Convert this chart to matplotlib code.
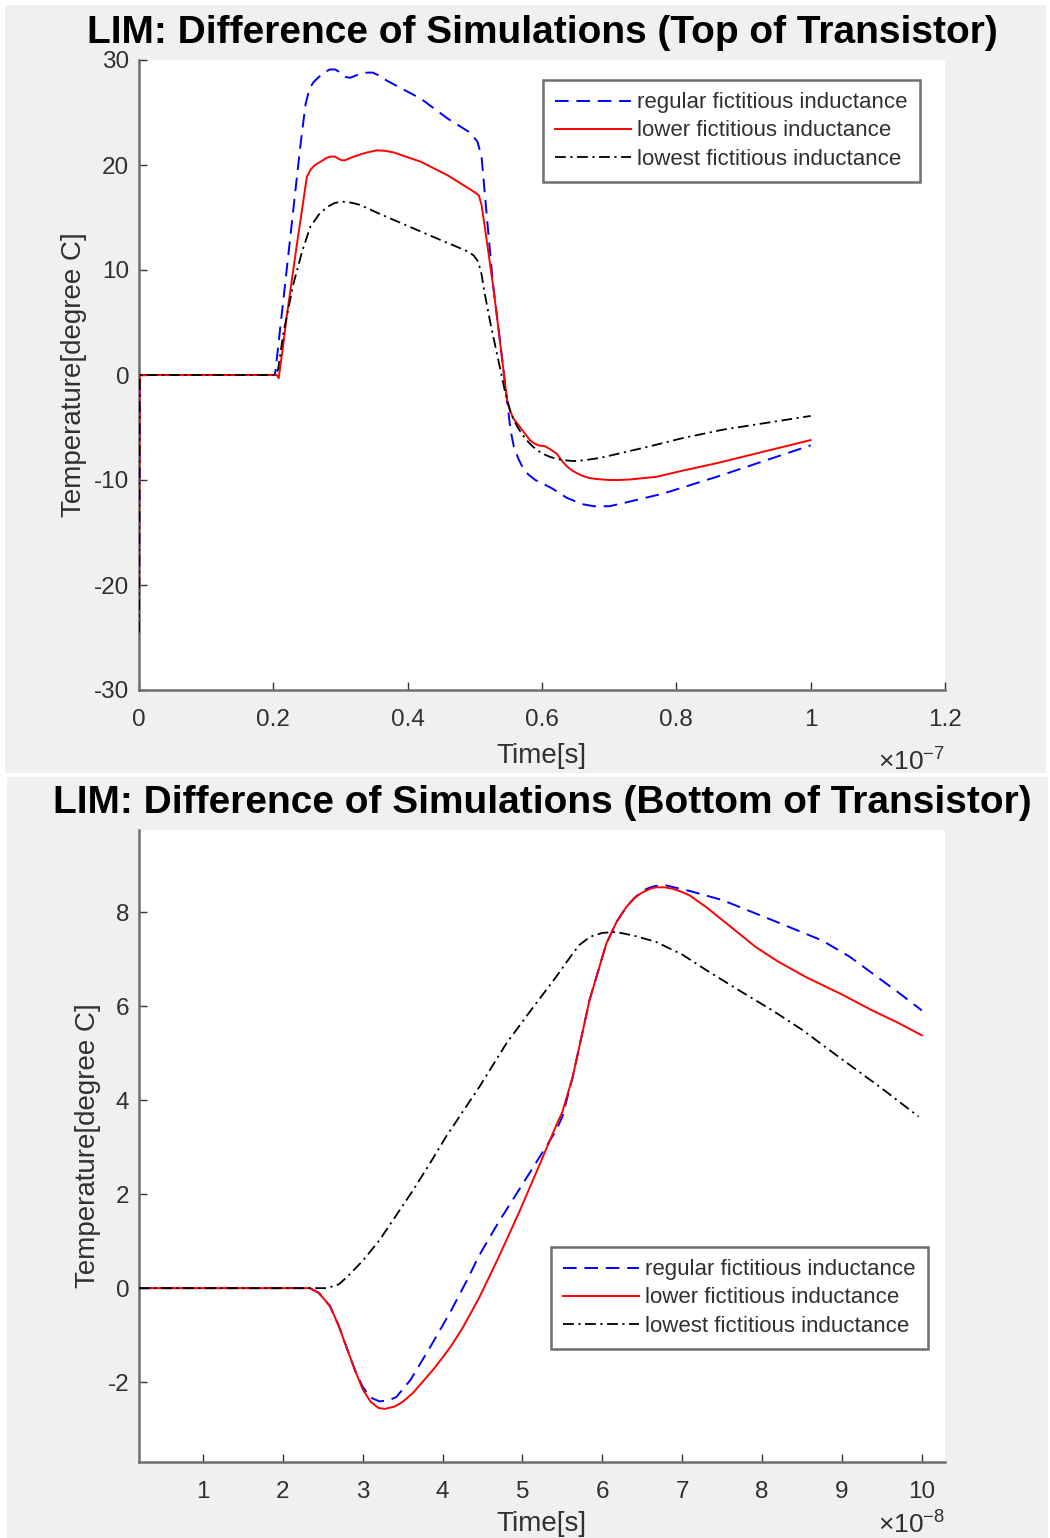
import numpy as np
import matplotlib
matplotlib.use('Agg')
import matplotlib.pyplot as plt
from matplotlib.patches import Rectangle

plt.rcParams['font.family'] = ['Liberation Sans', 'DejaVu Sans']
plt.rcParams['mathtext.fontset'] = 'custom'
plt.rcParams['mathtext.rm'] = 'Liberation Sans'
plt.rcParams['axes.unicode_minus'] = False

# ---- top panel data (time in units of 1e-7 s) ----
top_t_regular = [0, 0.001, 0.2, 0.2025, 0.215, 0.23, 0.24, 0.248, 0.254, 0.26, 0.268, 0.276, 0.284,
                 0.292, 0.30, 0.307, 0.314, 0.322, 0.33, 0.34, 0.348, 0.358, 0.37, 0.42, 0.46,
                 0.49, 0.498, 0.504, 0.51, 0.518, 0.527, 0.538, 0.548, 0.553, 0.558, 0.565, 0.572,
                 0.58, 0.59, 0.6, 0.615, 0.637, 0.66, 0.677, 0.70, 0.721, 0.78, 0.86, 0.93, 1.0]
top_regular = [-24.5, 0, 0, 0, 7.2, 15.9, 21.7, 25.8, 27.3, 27.9, 28.4, 28.8, 29.1,
               29.1, 28.8, 28.4, 28.3, 28.5, 28.7, 28.8, 28.8, 28.5, 28.0, 26.3, 24.4,
               23.2, 22.7, 22.2, 20.8, 15.0, 8.7, 3.0, -2.4, -5.2, -6.8, -8.0, -8.9,
               -9.5, -10.0, -10.3, -10.8, -11.7, -12.3, -12.5, -12.5, -12.2, -11.3, -9.7, -8.2, -6.7]

top_t_lower = [0, 0.001, 0.205, 0.208, 0.214, 0.22, 0.235, 0.25, 0.256, 0.262, 0.27, 0.28, 0.286,
               0.292, 0.297, 0.302, 0.307, 0.312, 0.32, 0.329, 0.34, 0.354, 0.366, 0.379, 0.42,
               0.46, 0.50, 0.506, 0.51, 0.518, 0.528, 0.538, 0.548, 0.553, 0.557, 0.563, 0.57,
               0.576, 0.582, 0.588, 0.595, 0.6, 0.605, 0.613, 0.622, 0.63, 0.637, 0.645, 0.652,
               0.66, 0.67, 0.68, 0.69, 0.70, 0.715, 0.731, 0.77, 0.81, 0.86, 0.93, 1.0]
top_lower = [-24.5, 0, 0, -0.3, 2.5, 5.6, 12.4, 18.9, 19.6, 20.0, 20.3, 20.7, 20.8,
             20.8, 20.6, 20.45, 20.45, 20.6, 20.8, 21.0, 21.2, 21.4, 21.35, 21.2, 20.3,
             19.0, 17.4, 17.1, 16.2, 12.7, 8.1, 2.9, -2.4, -3.5, -4.1, -4.6, -5.2,
             -5.7, -6.2, -6.5, -6.7, -6.75, -6.8, -7.1, -7.5, -8.2, -8.7, -9.1, -9.35,
             -9.6, -9.8, -9.9, -9.95, -10.0, -10.0, -9.95, -9.7, -9.1, -8.4, -7.3, -6.2]

top_t_lowest = [0, 0.001, 0.202, 0.207, 0.215, 0.23, 0.243, 0.255, 0.268, 0.28, 0.292, 0.304, 0.317,
                0.329, 0.36, 0.40, 0.44, 0.47, 0.49, 0.498, 0.505, 0.51, 0.514, 0.523, 0.538,
                0.545, 0.552, 0.558, 0.565, 0.571, 0.577, 0.586, 0.595, 0.603, 0.612, 0.62, 0.63,
                0.647, 0.665, 0.686, 0.72, 0.76, 0.81, 0.87, 0.93, 1.0]
top_lowest = [-24.5, 0, 0, 0.5, 4.0, 8.7, 11.8, 14.1, 15.3, 16.0, 16.4, 16.5, 16.4,
              16.2, 15.3, 14.2, 13.1, 12.3, 11.75, 11.4, 10.8, 9.6, 8.0, 5.0, 0.5,
              -1.6, -3.3, -4.3, -5.1, -5.7, -6.2, -6.8, -7.25, -7.55, -7.8, -7.95, -8.1,
              -8.2, -8.1, -7.9, -7.4, -6.8, -6.0, -5.2, -4.6, -3.9]

# ---- bottom panel data (time in units of 1e-8 s) ----
bot_t_regular = [0.2, 1.0, 2.0, 2.34, 2.45, 2.59, 2.70, 2.80, 2.90, 3.0, 3.1, 3.21, 3.32, 3.42,
                 3.6, 3.84, 4.1, 4.3, 4.46, 4.7, 4.96, 5.2, 5.42, 5.5, 5.63, 5.84, 6.05, 6.18, 6.3,
                 6.4, 6.5, 6.6, 6.67, 6.8, 7.1, 7.5, 8.13, 8.75, 9.1, 9.38, 9.7, 10.0]
bot_regular = [0, 0, 0, 0, -0.1, -0.38, -0.8, -1.27, -1.73, -2.1, -2.33, -2.41, -2.39, -2.32,
               -1.95, -1.27, -0.5, 0.15, 0.7, 1.4, 2.1, 2.75, 3.35, 3.65, 4.5, 6.13, 7.33, 7.8, 8.11,
               8.3, 8.45, 8.53, 8.56, 8.57, 8.45, 8.26, 7.83, 7.40, 7.05, 6.70, 6.3, 5.91]

bot_t_lower = [0.2, 1.0, 2.0, 2.34, 2.45, 2.59, 2.70, 2.80, 2.90, 3.0, 3.1, 3.2, 3.275, 3.4,
               3.5, 3.63, 3.9, 4.1, 4.25, 4.46, 4.7, 4.96, 5.17, 5.42, 5.5, 5.63, 5.84, 6.05, 6.18,
               6.3, 6.4, 6.5, 6.6, 6.67, 6.78, 6.88, 7.0, 7.1, 7.3, 7.6, 7.92, 8.2, 8.55, 9.0,
               9.38, 9.7, 10.0]
bot_lower = [0, 0, 0, 0, -0.1, -0.38, -0.8, -1.27, -1.73, -2.15, -2.42, -2.55, -2.57, -2.52,
             -2.42, -2.23, -1.7, -1.25, -0.85, -0.2, 0.65, 1.62, 2.45, 3.45, 3.75, 4.5, 6.13, 7.33, 7.8,
             8.11, 8.3, 8.42, 8.5, 8.53, 8.53, 8.50, 8.43, 8.35, 8.11, 7.7, 7.26, 6.95, 6.62,
             6.25, 5.91, 5.65, 5.38]

bot_t_lowest = [0.2, 1.0, 2.0, 2.55, 2.7, 2.8, 3.0, 3.21, 3.42, 3.63, 3.84, 4.05, 4.46, 4.80,
                5.1, 5.42, 5.6, 5.71, 5.85, 6.0, 6.17, 6.4, 6.67, 7.0, 7.30, 7.7, 8.13, 8.5,
                8.96, 9.5, 9.96]
bot_lowest = [0, 0, 0, 0, 0.08, 0.23, 0.58, 1.02, 1.55, 2.08, 2.65, 3.24, 4.28, 5.21,
              5.9, 6.62, 7.05, 7.30, 7.48, 7.56, 7.58, 7.5, 7.37, 7.1, 6.77, 6.35, 5.91, 5.5,
              4.92, 4.25, 3.65]

labels = ['regular fictitious inductance', 'lower fictitious inductance', 'lowest fictitious inductance']
top_xticks = [0, 0.2, 0.4, 0.6, 0.8, 1, 1.2]
top_xticklabels = ['0', '0.2', '0.4', '0.6', '0.8', '1', '1.2']
top_yticks = [-30, -20, -10, 0, 10, 20, 30]
bot_xticks = [1, 2, 3, 4, 5, 6, 7, 8, 9, 10]
bot_yticks = [-2, 0, 2, 4, 6, 8]

W, H = 1050, 1538
bg = '#f0f0f0'
axcol = '#6e6e6e'
txtcol = '#303030'

fig = plt.figure(figsize=(W / 100, H / 100), dpi=100, facecolor='white')
# two grey screenshot panels with a thin white border
fig.patches.append(Rectangle((5 / W, 1 - 773 / H), 1041 / W, 768 / H, transform=fig.transFigure,
                             facecolor=bg, edgecolor='none', zorder=-10))
fig.patches.append(Rectangle((7 / W, 0), 1041 / W, 761 / H, transform=fig.transFigure,
                             facecolor=bg, edgecolor='none', zorder=-10))

ax1 = fig.add_axes([139 / W, 1 - 690 / H, 806 / W, 630 / H])
ax2 = fig.add_axes([139 / W, 1 - 1462 / H, 806 / W, 632 / H])


def style(ax):
    for s in ['top', 'right']:
        ax.spines[s].set_visible(False)
    for s in ['left', 'bottom']:
        ax.spines[s].set_color(axcol)
        ax.spines[s].set_linewidth(1.8)
    ax.tick_params(direction='in', length=6, width=1.0, color='#333333',
                   labelsize=17.5, labelcolor=txtcol)
    ax.tick_params(axis='x', pad=14)
    ax.tick_params(axis='y', pad=7)


def draw(ax, series):
    (t1, v1), (t2, v2), (t3, v3) = series
    ax.plot(t1, v1, color='#0000ff', ls=(0, (7, 4)), lw=1.4, label=labels[0], zorder=3)
    ax.plot(t2, v2, color='#ff0000', ls='-', lw=1.4, label=labels[1], zorder=3)
    ax.plot(t3, v3, color='#000000', ls=(0, (6, 2.5, 1.2, 2.5)), lw=1.3, label=labels[2], zorder=3)


def legend(ax, anchor):
    leg = ax.legend(loc='upper right', bbox_to_anchor=anchor, borderaxespad=0,
                    fontsize=16, handlelength=3.4, handletextpad=0.3, labelspacing=0.32,
                    borderpad=0.55, fancybox=False, framealpha=1, edgecolor=axcol)
    leg.get_frame().set_linewidth(1.8)
    for txt in leg.get_texts():
        txt.set_color(txtcol)


# top panel
draw(ax1, [(top_t_regular, top_regular), (top_t_lower, top_lower), (top_t_lowest, top_lowest)])
style(ax1)
ax1.set_xlim(0, 1.2)
ax1.set_ylim(-30, 30)
ax1.set_xticks(top_xticks, top_xticklabels)
ax1.set_yticks(top_yticks)
ax1.set_title('LIM: Difference of Simulations (Top of Transistor)', fontsize=28,
              fontweight='bold', pad=12)
ax1.set_xlabel('Time[s]', fontsize=20, color=txtcol)
ax1.xaxis.set_label_coords(0.499, -0.084)
ax1.set_ylabel('Temperature[degree C]', fontsize=20, color=txtcol)
ax1.yaxis.set_label_coords(-0.065, 0.5)
ax1.text(1.0, -0.114, r'$\times\mathregular{10^{-7}}$', transform=ax1.transAxes,
         ha='right', va='center', fontsize=19, color=txtcol)
legend(ax1, (0.969, 0.968))

# bottom panel
draw(ax2, [(bot_t_regular, bot_regular), (bot_t_lower, bot_lower), (bot_t_lowest, bot_lowest)])
style(ax2)
ax2.set_xlim(0.2, 10.29)
ax2.set_ylim(-3.70, 9.75)
ax2.set_xticks(bot_xticks)
ax2.set_yticks(bot_yticks)
ax2.set_title('LIM: Difference of Simulations (Bottom of Transistor)', fontsize=28,
              fontweight='bold', pad=12)
ax2.set_xlabel('Time[s]', fontsize=20, color=txtcol)
ax2.xaxis.set_label_coords(0.499, -0.078)
ax2.set_ylabel('Temperature[degree C]', fontsize=20, color=txtcol)
ax2.yaxis.set_label_coords(-0.047, 0.5)
ax2.text(1.0, -0.100, r'$\times\mathregular{10^{-8}}$', transform=ax2.transAxes,
         ha='right', va='center', fontsize=19, color=txtcol)
legend(ax2, (0.979, 0.340))

fig.savefig('out.png', dpi=100, facecolor='white')
